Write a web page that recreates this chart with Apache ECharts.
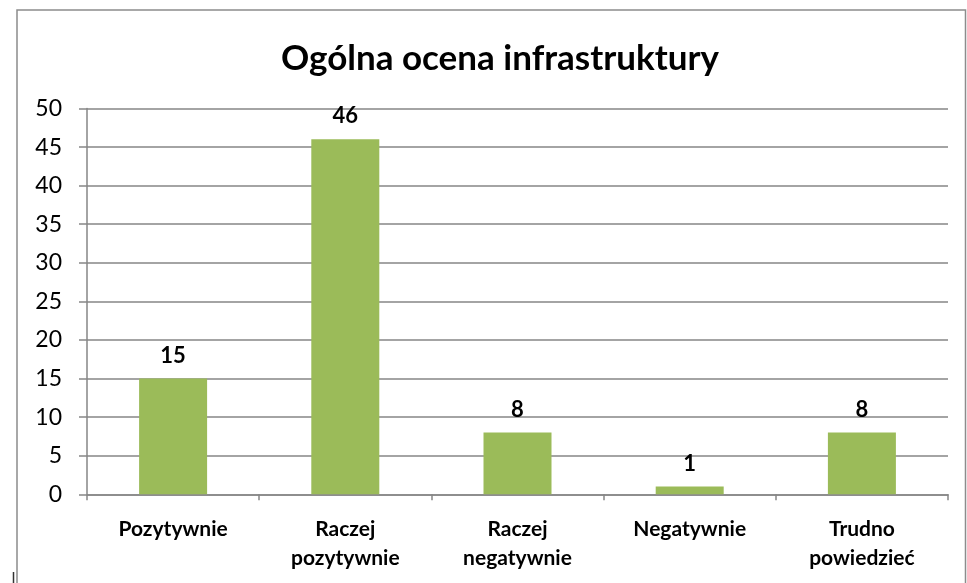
<!DOCTYPE html>
<html>
<head>
<meta charset="utf-8">
<script src="https://cdn.jsdelivr.net/npm/echarts@6/dist/echarts.min.js"></script>
<style>
html,body{margin:0;padding:0;background:#fff;}
#c{width:967px;height:583px;}
</style>
</head>
<body>
<div id="c"></div>
<script>
const titleText = 'Ogólna ocena infrastruktury';
const categories = ['Pozytywnie', 'Raczej\npozytywnie', 'Raczej\nnegatywnie', 'Negatywnie', 'Trudno\npowiedzieć'];
const values = [15, 46, 8, 1, 8];
const yTicks = [0, 5, 10, 15, 20, 25, 30, 35, 40, 45, 50];

const FONT = 'Lato, "Noto Sans", sans-serif';
const chart = echarts.init(document.getElementById('c'), null, {renderer: 'canvas'});
chart.setOption({
  animation: false,
  backgroundColor: '#fff',
  title: {
    text: titleText,
    left: 495, textAlign: 'center',
    top: 36,
    textStyle: {fontFamily: FONT, fontWeight: 'bold', fontSize: 35, color: '#000'}
  },
  graphic: [
    {type: 'rect', shape: {x: 17, y: 10, width: 948.5, height: 590},
     style: {fill: 'none', stroke: '#8c8c8c', lineWidth: 1.5}, silent: true},
    {type: 'line', shape: {x1: 13.5, y1: 572, x2: 13.5, y2: 583},
     style: {stroke: '#333', lineWidth: 1.5}, silent: true}
  ],
  grid: {left: 87, right: 19, top: 108.5, bottom: 88.7, containLabel: false},
  xAxis: {
    type: 'category',
    data: categories,
    axisLine: {show: true, lineStyle: {color: '#868686', width: 1.5}},
    axisTick: {show: true, length: 6, interval: 0, lineStyle: {color: '#868686', width: 1.5}},
    axisLabel: {interval: 0, margin: 20, fontFamily: FONT, fontWeight: 'bold', fontSize: 21, color: '#000', lineHeight: 29}
  },
  yAxis: {
    type: 'value',
    min: yTicks[0], max: yTicks[yTicks.length - 1], interval: 5,
    axisLine: {show: true, lineStyle: {color: '#868686', width: 1.5}},
    axisTick: {show: true, length: 8, lineStyle: {color: '#868686', width: 1.5}},
    splitLine: {show: true, lineStyle: {color: '#868686', width: 1.5}},
    axisLabel: {margin: 25, fontFamily: FONT, fontSize: 23, color: '#000'}
  },
  series: [{
    type: 'bar',
    data: values,
    barWidth: 68,
    itemStyle: {color: '#9BBB59'},
    label: {show: true, position: 'top', distance: 12, fontFamily: FONT, fontWeight: 'bold', fontSize: 22, color: '#000'}
  }]
});
</script>
</body>
</html>
